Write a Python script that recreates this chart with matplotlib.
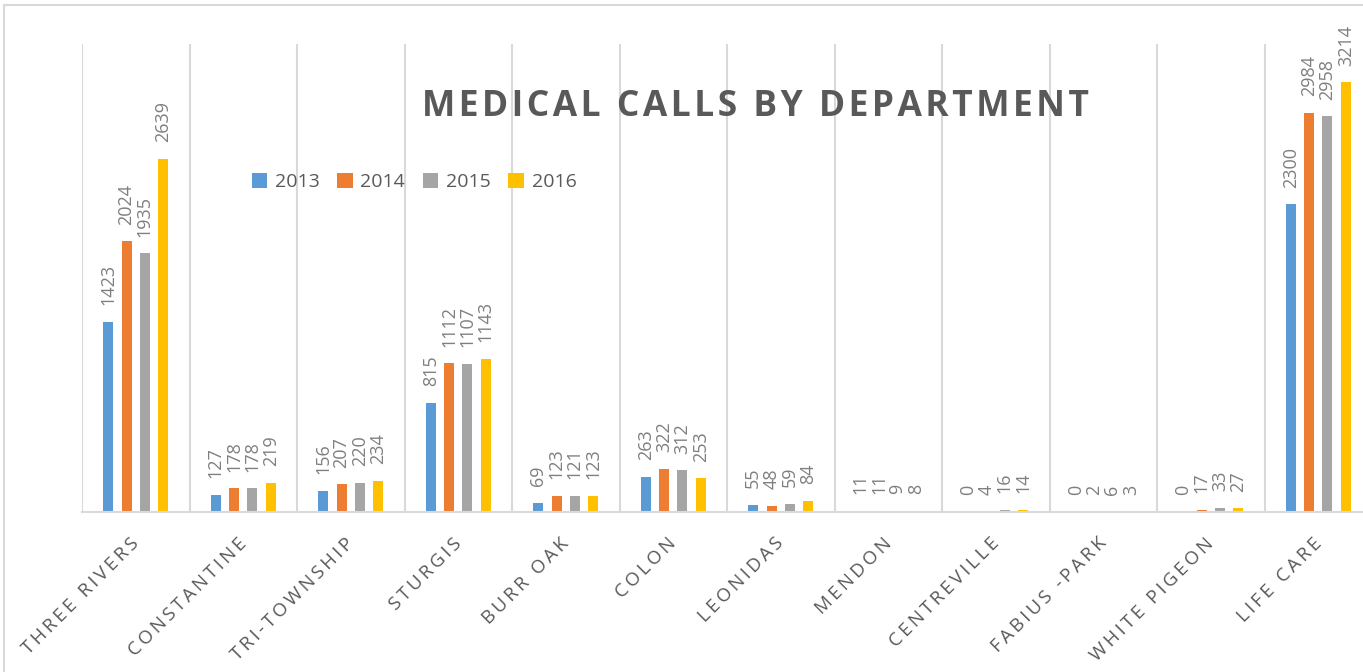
import matplotlib
matplotlib.use("Agg")
import matplotlib.pyplot as plt
import matplotlib.transforms as mtransforms
import numpy as np
from matplotlib.patches import Rectangle

# data
departments = ["THREE RIVERS", "CONSTANTINE", "TRI-TOWNSHIP", "STURGIS", "BURR OAK",
               "COLON", "LEONIDAS", "MENDON", "CENTREVILLE", "FABIUS -PARK",
               "WHITE PIGEON", "LIFE CARE"]
years = ["2013", "2014", "2015", "2016"]
calls_2013 = [1423, 127, 156, 815, 69, 263, 55, 11, 0, 0, 0, 2300]
calls_2014 = [2024, 178, 207, 1112, 123, 322, 48, 11, 4, 2, 17, 2984]
calls_2015 = [1935, 178, 220, 1107, 121, 312, 59, 9, 16, 6, 33, 2958]
calls_2016 = [2639, 219, 234, 1143, 123, 253, 84, 8, 14, 3, 27, 3214]
colors = ["#5B9BD5", "#ED7D31", "#A5A5A5", "#FFC000"]

plt.rcParams["font.family"] = ["Open Sans", "DejaVu Sans"]


def spaced(s, sep="\u200a"):
    # poor man's letter spacing
    return sep.join(s)


W, H = 1363, 672
fig = plt.figure(figsize=(W / 100, H / 100), dpi=100)

# outer chart border
fig.patches.append(Rectangle((4 / W, -0.1), 1.2, 1 - 5 / H + 0.1, transform=fig.transFigure,
                             fill=False, edgecolor="#d9d9d9", linewidth=1.5))

ax = fig.add_axes([82 / W, 1 - 512 / H, 1290 / W, 468 / H])

x = np.arange(len(departments))
series = [calls_2013, calls_2014, calls_2015, calls_2016]
offsets = [-0.256, -0.085, 0.085, 0.256]
for vals, off, col, yr in zip(series, offsets, colors, years):
    bars = ax.bar(x + off, vals, width=0.093, color=col, label=yr)
    for b, v in zip(bars, vals):
        ax.annotate(str(v), (b.get_x() + b.get_width() / 2, v), xytext=(0, 12),
                    textcoords="offset points", rotation=90, ha="center", va="bottom",
                    fontsize=13, color="#7f7f7f")

for xb in np.arange(-0.5, len(departments), 1.0):
    ax.axvline(xb, color="#d9d9d9", linewidth=1.5, zorder=0)

ax.set_xlim(-0.5, len(departments) - 0.5)
ax.set_ylim(0, 3500)
ax.set_yticks([])
ax.set_xticks(x)
ax.set_xticklabels([spaced(d, "\u2009") for d in departments], rotation=45, ha="right",
                   rotation_mode="anchor", fontsize=13.5, color="#595959")
ax.tick_params(axis="x", length=0, pad=16)
shift = mtransforms.ScaledTranslation(-6 / 100, 0, fig.dpi_scale_trans)
for lbl in ax.get_xticklabels():
    lbl.set_transform(lbl.get_transform() + shift)
for s in ["top", "left", "right"]:
    ax.spines[s].set_visible(False)
ax.spines["bottom"].set_color("#d9d9d9")
ax.spines["bottom"].set_linewidth(1.5)

fig.text(755 / W, 1 - 107 / H, spaced("MEDICAL CALLS BY DEPARTMENT"), ha="center",
         va="center", fontsize=25.5, fontweight="bold", color="#595959")

fig.legend(loc="center", bbox_to_anchor=(414 / W, 1 - 182 / H), ncol=4, frameon=False,
           handlelength=0.8, handleheight=0.8, handletextpad=0.4, columnspacing=0.9,
           fontsize=14, labelcolor="#595959")

fig.savefig("out.png", dpi=100)
